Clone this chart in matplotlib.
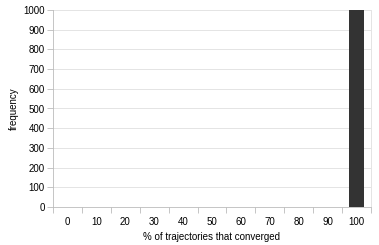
import numpy as np
import matplotlib
matplotlib.use("Agg")
import matplotlib.pyplot as plt

categories = ["0", "10", "20", "30", "40", "50", "60", "70", "80", "90", "100"]
frequency = [0, 0, 0, 0, 0, 0, 0, 0, 0, 0, 1000]

plt.rcParams['font.family'] = ['Liberation Sans', 'DejaVu Sans']
plt.rcParams['font.size'] = 7

fig = plt.figure(figsize=(3.79, 2.45), dpi=100)
ax = fig.add_axes([53/379, 1 - 207/245, (371-53)/379, (207-10)/245])

x = np.arange(len(categories))
ax.bar(x, frequency, width=0.5, color="#333333", zorder=3)

ax.set_xlim(-0.5, len(categories) - 0.5)
ax.set_ylim(0, 1000)
ax.set_yticks(np.arange(0, 1001, 100))
ax.set_xticks(x)
ax.set_xticklabels(categories)
ax.set_xticks(np.arange(-0.5, len(categories), 1), minor=True)
ax.tick_params(axis="x", which="major", length=0, pad=7)
ax.tick_params(axis="x", which="minor", length=4, color="#bbbbbb", width=0.6)
ax.tick_params(axis="y", length=4, color="#bbbbbb", width=0.6, pad=2)
ax.grid(axis="y", color="#e4e4e4", linewidth=0.7, zorder=0)

for s in ["left", "bottom"]:
    ax.spines[s].set_color("#bbbbbb")
    ax.spines[s].set_linewidth(0.6)
ax.spines["right"].set_color("#e4e4e4")
ax.spines["right"].set_linewidth(0.7)
ax.spines["top"].set_visible(False)

ax.set_xlabel("% of trajectories that converged", labelpad=4)
ax.set_ylabel("frequency", labelpad=3)

fig.savefig("out.png", dpi=100)
